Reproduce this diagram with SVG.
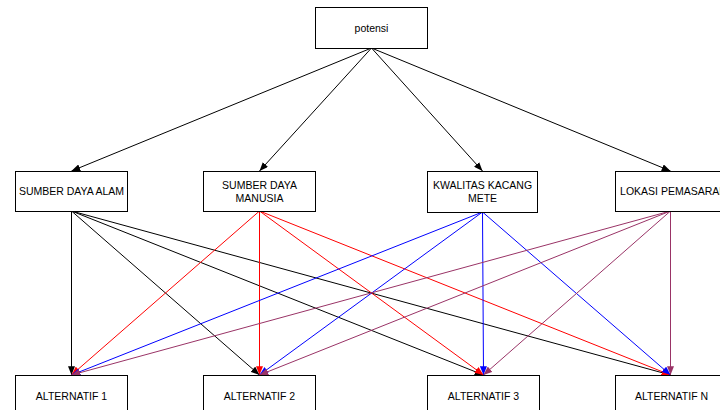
<svg xmlns="http://www.w3.org/2000/svg" width="720" height="410" viewBox="0 0 720 410">
<defs>
<style>
.box{fill:#fff;stroke:#000;stroke-width:1}
.t{font-family:"Liberation Sans",Arial,sans-serif;font-size:10.5px;fill:#000;text-anchor:middle}
.c{fill:none;stroke-width:1}
.k{stroke:#000}
.r{stroke:#ff0000}
.b{stroke:#0000ff}
.p{stroke:#993366}
</style>
<marker id="mk" viewBox="0 0 10 8" refX="10" refY="4" markerWidth="9" markerHeight="7" markerUnits="userSpaceOnUse" orient="auto"><path d="M0,0L10,4L0,8z" fill="#000"/></marker>
<marker id="mr" viewBox="0 0 10 8" refX="10" refY="4" markerWidth="9" markerHeight="7" markerUnits="userSpaceOnUse" orient="auto"><path d="M0,0L10,4L0,8z" fill="#ff0000"/></marker>
<marker id="mb" viewBox="0 0 10 8" refX="10" refY="4" markerWidth="9" markerHeight="7" markerUnits="userSpaceOnUse" orient="auto"><path d="M0,0L10,4L0,8z" fill="#0000ff"/></marker>
<marker id="mp" viewBox="0 0 10 8" refX="10" refY="4" markerWidth="9" markerHeight="7" markerUnits="userSpaceOnUse" orient="auto"><path d="M0,0L10,4L0,8z" fill="#993366"/></marker>
</defs>
<rect width="720" height="410" fill="#fff"/>
<g id="connectors">
<g marker-end="url(#mk)" class="c k">
<line x1="371.5" y1="48" x2="71.5" y2="171"/>
<line x1="371.5" y1="48" x2="259.5" y2="171"/>
<line x1="371.5" y1="48" x2="482.5" y2="171"/>
<line x1="371.5" y1="48" x2="670.5" y2="171"/>
<line x1="71.5" y1="211" x2="71.5" y2="375"/>
<line x1="71.5" y1="211" x2="259.5" y2="375"/>
<line x1="71.5" y1="211" x2="483.5" y2="375"/>
<line x1="71.5" y1="211" x2="670.5" y2="375"/>
</g>
<g marker-end="url(#mr)" class="c r">
<line x1="259.5" y1="211" x2="71.5" y2="375"/>
<line x1="259.5" y1="211" x2="259.5" y2="375"/>
<line x1="259.5" y1="211" x2="483.5" y2="375"/>
<line x1="259.5" y1="211" x2="670.5" y2="375"/>
</g>
<g marker-end="url(#mb)" class="c b">
<line x1="482.5" y1="212" x2="71.5" y2="375"/>
<line x1="482.5" y1="212" x2="259.5" y2="375"/>
<line x1="482.5" y1="212" x2="483.5" y2="375"/>
<line x1="482.5" y1="212" x2="670.5" y2="375"/>
</g>
<g marker-end="url(#mp)" class="c p">
<line x1="670.5" y1="211" x2="71.5" y2="375"/>
<line x1="670.5" y1="211" x2="259.5" y2="375"/>
<line x1="670.5" y1="211" x2="483.5" y2="375"/>
<line x1="670.5" y1="211" x2="670.5" y2="375"/>
</g>
</g>
<g id="potensi"><rect class="box" x="315.5" y="7.5" width="112" height="41"/><text class="t" x="371.5" y="32">potensi</text></g>
<g id="sda"><rect class="box" x="15.5" y="171.5" width="112" height="40"/><text class="t" x="71.5" y="195">SUMBER DAYA ALAM</text></g>
<g id="sdm"><rect class="box" x="203.5" y="171.5" width="112" height="40"/><text class="t" x="259.5" y="189">SUMBER DAYA</text><text class="t" x="259.5" y="202">MANUSIA</text></g>
<g id="kwalitas"><rect class="box" x="427.5" y="171.5" width="110" height="41"/><text class="t" x="482.5" y="189">KWALITAS KACANG</text><text class="t" x="482.5" y="202">METE</text></g>
<g id="lokasi"><rect class="box" x="615.5" y="171.5" width="116" height="40"/><text class="t" x="673.5" y="195">LOKASI PEMASARAN</text></g>
<g id="alt1"><rect class="box" x="15.5" y="375.5" width="112" height="45"/><text class="t" x="71.5" y="400">ALTERNATIF 1</text></g>
<g id="alt2"><rect class="box" x="203.5" y="375.5" width="112" height="45"/><text class="t" x="259.5" y="400">ALTERNATIF 2</text></g>
<g id="alt3"><rect class="box" x="427.5" y="375.5" width="112" height="45"/><text class="t" x="483.5" y="400">ALTERNATIF 3</text></g>
<g id="altn"><rect class="box" x="615.5" y="375.5" width="112" height="45"/><text class="t" x="671.5" y="400">ALTERNATIF N</text></g>
</svg>
